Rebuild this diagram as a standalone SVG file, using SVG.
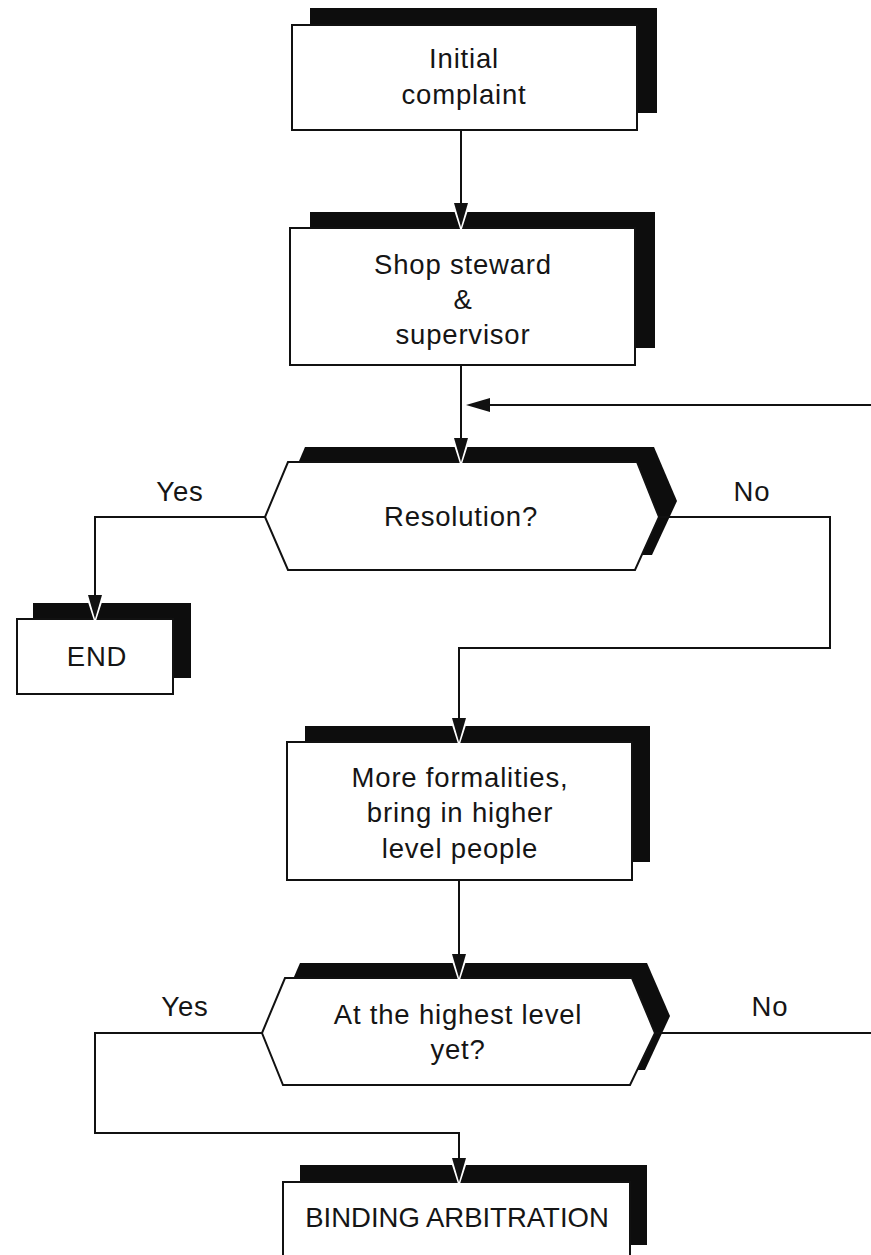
<svg xmlns="http://www.w3.org/2000/svg" width="871" height="1255" viewBox="0 0 871 1255">
<style>
.sh{fill:#0d0d0d;stroke:none}
.bx{fill:#fff;stroke:#111;stroke-width:2}
.t{font-family:"Liberation Sans",Arial,sans-serif;font-size:27.5px;letter-spacing:0.8px;fill:#151515;text-anchor:middle}
.ln{fill:none;stroke:#111;stroke-width:2}
</style>
<defs>
<marker id="ahl" viewBox="-3 -3 30 20" refX="24" refY="7" markerWidth="30" markerHeight="20" markerUnits="userSpaceOnUse" orient="auto">
<path d="M-1,-1 L24,7 L-1,15" fill="none" stroke="#fff" stroke-width="3"/>
<path d="M0,0 L24,7 L0,14 Z" fill="#111"/>
</marker>
</defs>
<rect width="871" height="1255" fill="#fff"/>
<g id="initial">
<rect class="sh" x="310" y="8" width="347" height="105"/>
<rect class="bx" x="292" y="25" width="345" height="105"/>
<text class="t" x="464" y="68">Initial</text>
<text class="t" x="464" y="104">complaint</text>
</g>
<g id="steward">
<rect class="sh" x="310" y="212" width="345" height="136"/>
<rect class="bx" x="290" y="228" width="345" height="137"/>
<text class="t" x="463" y="274">Shop steward</text>
<text class="t" x="463" y="309">&amp;</text>
<text class="t" x="463" y="344">supervisor</text>
</g>
<g id="resolution">
<polygon class="sh" points="305,447 654,447 677,501 652,555 305,555 282,501"/>
<polygon class="bx" points="288,462 637,462 659,517 635,570 288,570 265,517"/>
<text class="t" x="461" y="526">Resolution?</text>
</g>
<g id="end">
<rect class="sh" x="33" y="603" width="158" height="75"/>
<rect class="bx" x="17" y="619" width="156" height="75"/>
<text class="t" x="97" y="666">END</text>
</g>
<g id="formalities">
<rect class="sh" x="305" y="726" width="345" height="136"/>
<rect class="bx" x="287" y="742" width="345" height="138"/>
<text class="t" x="460" y="787">More formalities,</text>
<text class="t" x="460" y="822">bring in higher</text>
<text class="t" x="460" y="858">level people</text>
</g>
<g id="highest">
<polygon class="sh" points="300,963 647,963 670,1016 645,1070 300,1070 277,1016"/>
<polygon class="bx" points="285,978 632,978 655,1033 630,1085 283,1085 262,1033"/>
<text class="t" x="458" y="1024">At the highest level</text>
<text class="t" x="458" y="1059">yet?</text>
</g>
<g id="arbitration">
<rect class="sh" x="300" y="1165" width="347" height="80"/>
<rect class="bx" x="283" y="1182" width="347" height="80"/>
<text class="t" x="457" y="1227" style="letter-spacing:0">BINDING ARBITRATION</text>
</g>
<g id="connectors">
<line class="ln" x1="461" y1="131" x2="461" y2="227" marker-end="url(#ahl)"/>
<line class="ln" x1="461" y1="366" x2="461" y2="462" marker-end="url(#ahl)"/>
<line class="ln" x1="871" y1="405" x2="466" y2="405" marker-end="url(#ahl)"/>
<polyline class="ln" points="265,517 95,517 95,619" marker-end="url(#ahl)"/>
<polyline class="ln" points="659,517 830,517 830,648 459,648 459,742" marker-end="url(#ahl)"/>
<line class="ln" x1="459" y1="881" x2="459" y2="978" marker-end="url(#ahl)"/>
<polyline class="ln" points="262,1033 95,1033 95,1133 459,1133 459,1182" marker-end="url(#ahl)"/>
<line class="ln" x1="655" y1="1033" x2="871" y2="1033"/>
<text class="t" x="180" y="501">Yes</text>
<text class="t" x="752" y="501">No</text>
<text class="t" x="185" y="1016">Yes</text>
<text class="t" x="770" y="1016">No</text>
</g>
</svg>
